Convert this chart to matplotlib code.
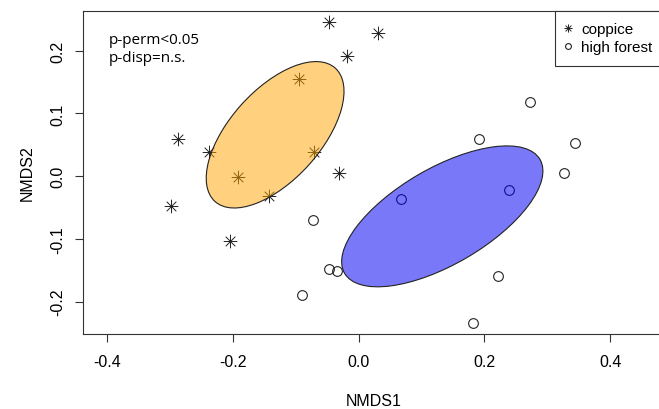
import matplotlib
matplotlib.use("Agg")
import matplotlib.pyplot as plt
from matplotlib.path import Path
from matplotlib.patches import Ellipse
from matplotlib.lines import Line2D

# NMDS scores, coppice plots
coppice_x = [-0.048, 0.031, -0.019, -0.095, -0.287, -0.239, -0.071, -0.192, -0.031, -0.142, -0.298, -0.205]
coppice_y = [0.245, 0.229, 0.192, 0.155, 0.060, 0.039, 0.038, -0.002, 0.005, -0.031, -0.047, -0.103]

# NMDS scores, high forest plots
forest_x = [0.273, 0.191, 0.344, 0.326, 0.239, 0.067, -0.072, -0.047, -0.035, -0.091, 0.222, 0.182]
forest_y = [0.119, 0.059, 0.053, 0.005, -0.022, -0.037, -0.070, -0.148, -0.151, -0.190, -0.159, -0.234]

# group ellipses: centre, semi axes, angle
ell_centers = [(-0.133, 0.066), (0.133, -0.064)]
ell_semi_major = [0.143, 0.180]
ell_semi_minor = [0.072, 0.0765]
ell_angles = [48, 30.3]
ell_colors = [(1.0, 0.647, 0.0, 0.5), (0.0, 0.0, 0.95, 0.53)]

group_names = ["coppice", "high forest"]
xticks = [-0.4, -0.2, 0.0, 0.2, 0.4]
yticks = [-0.2, -0.1, 0.0, 0.1, 0.2]

plt.rcParams['font.family'] = ['Liberation Sans', 'DejaVu Sans']
plt.rcParams['font.size'] = 11.5

# R style pch=8 asterisk, eight equal spokes
d = 0.7071
star = Path([(-1, 0), (1, 0), (0, -1), (0, 1), (-d, -d), (d, d), (-d, d), (d, -d)],
            [Path.MOVETO, Path.LINETO] * 4)

fig = plt.figure(figsize=(6.59, 4.10), dpi=100)
# right edge of the box falls just outside the picture, as in the original
ax = fig.add_axes([83 / 659, 1 - 335 / 410, 581 / 659, 323 / 410])

ax.plot(coppice_x, coppice_y, ls='none', marker=star, ms=9.8, mec='#222222', mfc='none', mew=0.7, zorder=2)
ax.plot(forest_x, forest_y, ls='none', marker='o', ms=7, mec='#222222', mfc='none', mew=0.8, zorder=2)

for i in range(len(ell_centers)):
	e = Ellipse(ell_centers[i], 2 * ell_semi_major[i], 2 * ell_semi_minor[i], angle=ell_angles[i],
				facecolor=ell_colors[i], edgecolor='#222222', lw=0.8, zorder=3)
	ax.add_patch(e)

ax.set_xlim(-0.4387, 0.4858)
ax.set_ylim(-0.2515, 0.2633)
ax.set_xticks(xticks)
ax.set_yticks(yticks)
ax.set_xticklabels(["%.1f" % v for v in xticks])
ax.set_yticklabels(["%.1f" % v for v in yticks], rotation=90, va='center')
ax.tick_params(direction='out', length=5.8, width=0.8, color='#333333')
ax.tick_params(axis='x', pad=8.5)
ax.tick_params(axis='y', pad=7)
for s in ax.spines.values():
	s.set_linewidth(0.8)
	s.set_color('#333333')

ax.set_xlabel("NMDS1")
ax.set_ylabel("NMDS2")
ax.xaxis.set_label_coords(0.5, -0.182)
ax.yaxis.set_label_coords(-0.083, 0.5)

# test results
ax.text(-0.397, 0.2185, "p-perm<0.05", family=['Open Sans', 'DejaVu Sans'], fontsize=11, va='center')
ax.text(-0.397, 0.189, "p-disp=n.s.", family=['Open Sans', 'DejaVu Sans'], fontsize=11, va='center')

handles = [Line2D([], [], ls='none', marker=star, ms=9.8, mec='#222222', mfc='none', mew=0.7),
		   Line2D([], [], ls='none', marker='o', ms=7, mec='#222222', mfc='none', mew=0.8)]
leg = ax.legend(handles, group_names, loc='upper right', bbox_to_anchor=(1, 1), borderaxespad=0,
				fancybox=False, framealpha=1, edgecolor='#333333', markerscale=0.6, fontsize=11,
				borderpad=0.75, handlelength=0.2, handletextpad=0.8, labelspacing=0.24)
leg.get_frame().set_linewidth(0.8)

fig.savefig("out.png", dpi=100)
